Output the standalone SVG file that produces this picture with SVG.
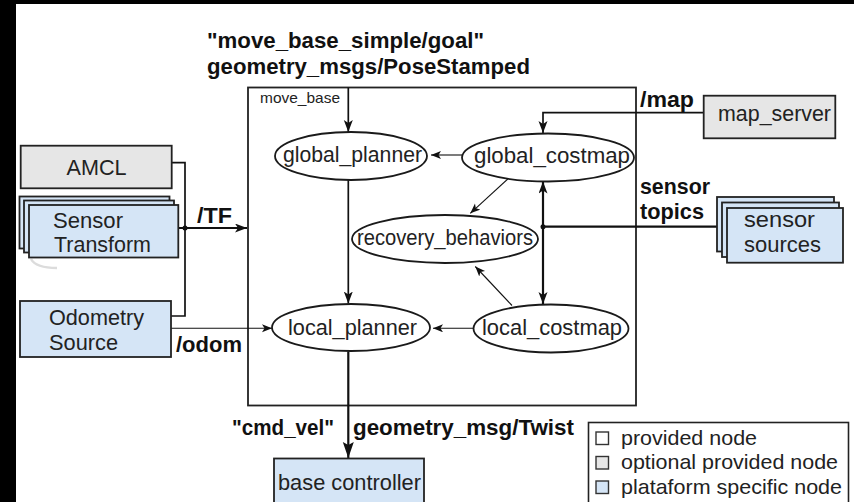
<svg xmlns="http://www.w3.org/2000/svg" width="854" height="502" viewBox="0 0 854 502">
<defs>
<style>
.bg{fill:#fff}
.frame{fill:#000}
.box{stroke:#222;stroke-width:1.8}
.gray{fill:#e6e6e6}
.blue{fill:#d5e5f6}
.ell{fill:#fff;stroke:#1a1a1a;stroke-width:1.8}
.t{font-family:"Liberation Sans",Arial,sans-serif;font-size:21.5px;fill:#222}
.b{font-family:"Liberation Sans",Arial,sans-serif;font-size:22px;font-weight:bold;fill:#111}
.s{font-family:"Liberation Sans",Arial,sans-serif;font-size:15px;fill:#222}
.l{font-family:"Liberation Sans",Arial,sans-serif;font-size:21px;fill:#222}
.c{fill:none;stroke:#111}
.thin{stroke-width:1.1}
.mid{stroke-width:1.7}
.thick{stroke-width:2.2}
</style>
<marker id="ah" markerUnits="userSpaceOnUse" markerWidth="12" markerHeight="10" refX="10" refY="4" orient="auto">
<path d="M0,0 L10,4 L0,8 L2.5,4 z" fill="#111"/>
</marker>
<marker id="am" markerUnits="userSpaceOnUse" markerWidth="14" markerHeight="12" refX="12" refY="4.5" orient="auto">
<path d="M0,0 L12,4.5 L0,9 L3,4.5 z" fill="#111"/>
</marker>
<marker id="ab" markerUnits="userSpaceOnUse" markerWidth="18" markerHeight="14" refX="16" refY="5.5" orient="auto">
<path d="M0,0 L16,5.5 L0,11 L3,5.5 z" fill="#111"/>
</marker>
</defs>
<rect class="bg" x="0" y="0" width="854" height="502"/>
<rect class="frame" x="0" y="0" width="16" height="502"/>
<rect class="frame" x="0" y="0" width="854" height="4"/>

<g id="titles">
<text class="b" x="207" y="47.5" textLength="277" lengthAdjust="spacingAndGlyphs">"move_base_simple/goal"</text>
<text class="b" x="207" y="74" textLength="323" lengthAdjust="spacingAndGlyphs">geometry_msgs/PoseStamped</text>
</g>

<g id="move_base">
<rect x="248" y="87.5" width="388" height="318" fill="none" stroke="#222" stroke-width="1.8"/>
<text class="s" x="260" y="103" textLength="80" lengthAdjust="spacingAndGlyphs">move_base</text>
</g>

<g id="connectors">
<path class="c mid" d="M171.7,162.7 H185 V316 H171"/>
<path class="c thick" d="M178.3,228 H247" marker-end="url(#am)"/>
<circle cx="185" cy="228" r="2.5" fill="#111"/>
<path class="c thin" d="M171,328.3 H272" marker-end="url(#ah)"/>
<path class="c mid" d="M348.3,87.5 V132" marker-end="url(#am)"/>
<path class="c mid" d="M348.3,180 V303.5" marker-end="url(#am)"/>
<path class="c thick" d="M348.3,351.5 V458" marker-end="url(#ab)"/>
<path class="c thin" d="M462,155 H431" marker-end="url(#ah)"/>
<path class="c thin" d="M474,328.3 H433" marker-end="url(#ah)"/>
<path class="c mid" d="M703.7,112.7 H543 V133" marker-end="url(#am)"/>
<path class="c thick" d="M727,226.7 H543"/>
<path class="c thick" d="M543,226.7 V181.5" marker-end="url(#am)"/>
<path class="c thick" d="M543,226.7 V304" marker-end="url(#am)"/>
<circle cx="543" cy="226.7" r="2.5" fill="#111"/>
<path class="c thin" d="M510.3,176.7 L470.3,213.3" marker-end="url(#ah)"/>
<path class="c thin" d="M512,305.5 L475.3,266.5" marker-end="url(#ah)"/>
</g>

<g id="labels">
<text class="b" x="197" y="223" textLength="35" lengthAdjust="spacingAndGlyphs">/TF</text>
<text class="b" x="176" y="351.5" textLength="66" lengthAdjust="spacingAndGlyphs">/odom</text>
<text class="b" x="232" y="435" textLength="102" lengthAdjust="spacingAndGlyphs">"cmd_vel"</text>
<text class="b" x="353" y="435" textLength="221" lengthAdjust="spacingAndGlyphs">geometry_msg/Twist</text>
<text class="b" x="640" y="107" textLength="54" lengthAdjust="spacingAndGlyphs">/map</text>
<text class="b" x="640" y="193.5" textLength="70" lengthAdjust="spacingAndGlyphs">sensor</text>
<text class="b" x="640" y="218.5" textLength="64" lengthAdjust="spacingAndGlyphs">topics</text>
</g>

<g id="amcl">
<rect class="box gray" x="20.7" y="145.7" width="151" height="42.6"/>
<text class="t" x="66.5" y="175" textLength="60" lengthAdjust="spacingAndGlyphs">AMCL</text>
</g>

<g id="sensor_transform">
<path d="M31,259 Q36,268 57,268" fill="none" stroke="#dcdcdc" stroke-width="2.5"/>
<rect class="box blue" x="19.5" y="196.5" width="150" height="52"/>
<rect class="box blue" x="24" y="200.5" width="150" height="52"/>
<rect class="box blue" x="29" y="205" width="149.3" height="52.5"/>
<text class="t" x="53" y="227.5" textLength="70" lengthAdjust="spacingAndGlyphs">Sensor</text>
<text class="t" x="54" y="252" textLength="97" lengthAdjust="spacingAndGlyphs">Transform</text>
</g>

<g id="odometry">
<rect class="box blue" x="20" y="301" width="151" height="56"/>
<text class="t" x="49" y="324.5" textLength="95" lengthAdjust="spacingAndGlyphs">Odometry</text>
<text class="t" x="49" y="349.5" textLength="69" lengthAdjust="spacingAndGlyphs">Source</text>
</g>

<g id="map_server">
<rect class="box gray" x="703.7" y="95.7" width="131.6" height="42.6"/>
<text class="t" x="718" y="121" textLength="113" lengthAdjust="spacingAndGlyphs">map_server</text>
</g>

<g id="sensor_sources">
<rect class="box blue" x="717" y="197" width="117" height="54.5"/>
<rect class="box blue" x="722" y="202.5" width="117" height="54.5"/>
<rect class="box blue" x="727" y="208" width="116" height="54.7"/>
<text class="t" x="744" y="227" textLength="71" lengthAdjust="spacingAndGlyphs">sensor</text>
<text class="t" x="744" y="251.5" textLength="77" lengthAdjust="spacingAndGlyphs">sources</text>
</g>

<g id="base_controller">
<rect class="box blue" x="274" y="458.5" width="150" height="46"/>
<text class="t" x="278" y="490" textLength="143" lengthAdjust="spacingAndGlyphs">base controller</text>
</g>

<g id="global_planner">
<ellipse class="ell" cx="351" cy="156" rx="76" ry="24"/>
<text class="t" x="283" y="161.5" textLength="139" lengthAdjust="spacingAndGlyphs">global_planner</text>
</g>

<g id="global_costmap">
<ellipse class="ell" cx="548" cy="157.5" rx="86" ry="24"/>
<text class="t" x="474" y="163" textLength="156" lengthAdjust="spacingAndGlyphs">global_costmap</text>
</g>

<g id="recovery_behaviors">
<ellipse class="ell" cx="445" cy="239" rx="93" ry="24"/>
<text class="t" x="357" y="245" textLength="176" lengthAdjust="spacingAndGlyphs">recovery_behaviors</text>
</g>

<g id="local_planner">
<ellipse class="ell" cx="351" cy="327.5" rx="79" ry="23.5"/>
<text class="t" x="288" y="334.5" textLength="129" lengthAdjust="spacingAndGlyphs">local_planner</text>
</g>

<g id="local_costmap">
<ellipse class="ell" cx="551" cy="328.5" rx="77.5" ry="24"/>
<text class="t" x="482" y="335" textLength="140" lengthAdjust="spacingAndGlyphs">local_costmap</text>
</g>

<g id="legend">
<rect x="588.5" y="422.5" width="260" height="90" fill="#fff" stroke="#222" stroke-width="1.6"/>
<rect x="596" y="432" width="12.5" height="12.5" fill="#fff" stroke="#333" stroke-width="1.4"/>
<rect x="596" y="456.5" width="12.5" height="12.5" fill="#e6e6e6" stroke="#333" stroke-width="1.4"/>
<rect x="596" y="481" width="12.5" height="12.5" fill="#d5e5f6" stroke="#333" stroke-width="1.4"/>
<text class="l" x="621" y="444.5" textLength="136" lengthAdjust="spacingAndGlyphs">provided node</text>
<text class="l" x="621" y="469" textLength="217" lengthAdjust="spacingAndGlyphs">optional provided node</text>
<text class="l" x="621" y="493.5" textLength="221" lengthAdjust="spacingAndGlyphs">plataform specific node</text>
</g>
</svg>
